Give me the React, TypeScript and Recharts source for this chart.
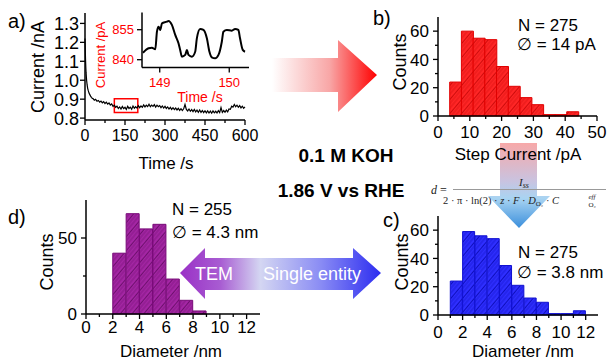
import React from "react";
import { LineChart, Line, XAxis, YAxis, BarChart, Bar, ReferenceArea } from "recharts";

const FONT = '"Liberation Sans", Arial, sans-serif';

// a) chronoamperometry, 0.1 M KOH
const timeS = [
  0, 1, 2, 3, 4, 5, 6, 8, 10, 12, 15, 18, 21, 24, 27,
  30, 35, 40, 45, 50, 55, 60, 65, 70, 75,
  80, 85, 90, 95, 100, 105, 110, 115, 120, 125,
  130, 135, 140, 145, 150, 155, 160, 165, 170, 175,
  180, 185, 190, 195, 200, 205, 210, 215, 220, 225,
  230, 235, 240, 245, 250, 255, 260, 265, 270, 275,
  280, 285, 290, 295, 300, 305, 310, 315, 320, 325,
  330, 335, 340, 345, 350, 355, 360, 365, 370, 375,
  380, 385, 390, 395, 400, 405, 410, 415, 420, 425,
  430, 435, 440, 445, 450, 455, 460, 465, 470, 475,
  480, 485, 490, 495, 500, 505, 510, 515, 520, 525,
  530, 535, 540, 545, 550, 555, 560, 565, 570, 575,
  580, 585, 590, 595, 600,
];
const currentNA = [
  1.22, 1.16, 1.11, 1.07, 1.04, 1.02, 1.0, 0.975, 0.957, 0.946, 0.932, 0.924, 0.916, 0.91, 0.905,
  0.903, 0.894, 0.899, 0.889, 0.893, 0.884, 0.89, 0.881, 0.887, 0.877,
  0.884, 0.874, 0.88, 0.869, 0.875, 0.862, 0.868, 0.857, 0.863, 0.851,
  0.859, 0.848, 0.861, 0.85, 0.857, 0.846, 0.862, 0.851, 0.858, 0.847,
  0.864, 0.852, 0.86, 0.853, 0.866, 0.855, 0.864, 0.857, 0.87, 0.859,
  0.868, 0.861, 0.873, 0.86, 0.869, 0.862, 0.871, 0.858, 0.868, 0.86,
  0.866, 0.855, 0.864, 0.853, 0.862, 0.851, 0.859, 0.848, 0.857, 0.846,
  0.855, 0.845, 0.853, 0.843, 0.852, 0.841, 0.85, 0.84, 0.849, 0.872,
  0.846, 0.838, 0.848, 0.836, 0.845, 0.834, 0.846, 0.833, 0.842, 0.831,
  0.843, 0.83, 0.84, 0.829, 0.839, 0.828, 0.838, 0.827, 0.837, 0.826,
  0.838, 0.828, 0.836, 0.827, 0.839, 0.829, 0.856, 0.83, 0.84, 0.831,
  0.842, 0.833, 0.848, 0.846, 0.863, 0.858, 0.872, 0.86, 0.868, 0.857,
  0.866, 0.854, 0.863, 0.852, 0.859,
];

// inset: zoom on 149-150 s
const insetTimeS = [
  148.759, 148.84, 148.888, 148.936, 148.96, 148.983, 149.008, 149.032, 149.104, 149.127,
  149.175, 149.223, 149.27, 149.294, 149.319, 149.366, 149.391, 149.414, 149.462, 149.51,
  149.534, 149.581, 149.629, 149.678, 149.715, 149.749, 149.797, 149.845, 149.893, 149.916,
  149.965, 150.037, 150.084, 150.131, 150.155, 150.194, 150.227,
];
const insetCurrentPA = [
  843.5, 845.7, 846.0, 845.2, 854.0, 856.5, 854.9, 858.2, 859.0, 859.4,
  857.4, 852.4, 848.2, 844.9, 841.5, 842.4, 844.9, 842.4, 841.5, 844.0,
  850.7, 855.4, 854.9, 850.7, 844.0, 841.2, 840.7, 842.4, 849.0, 854.0,
  854.9, 854.5, 855.4, 854.9, 850.7, 844.9, 844.0,
];

// b) step current histogram
const stepCurrentPA = [5.52, 9.2, 12.88, 16.56, 20.24, 23.92, 27.6, 31.28, 34.96, 38.64, 42.32];
const stepCounts = [24, 60, 55, 54, 35, 21, 13, 8, 1, 1, 3];

// c) single entity diameters
const seDiameterNm = [1.5, 2.5, 3.5, 4.5, 5.5, 6.5, 7.5, 8.5, 9.5, 10.5, 11.5];
const seCounts = [24, 59, 56, 54, 35, 21, 12, 9, 1, 1, 3];

// d) TEM diameters
const temDiameterNm = [2.5, 3.5, 4.5, 5.5, 6.5, 7.5, 8.5];
const temCounts = [40, 66, 56, 59, 23, 9, 2];

const aXTicks = [0, 75, 150, 225, 300, 375, 450, 525, 600];
const aXLabels = [0, 150, 300, 450, 600];
const aYTicks = [0.8, 0.9, 1.0, 1.1, 1.2, 1.3];
const insetXTicks = [149, 150];
const insetYTicks = [840, 855];
const bXTicks = [0, 5, 10, 15, 20, 25, 30, 35, 40, 45, 50];
const bXLabels = [0, 10, 20, 30, 40, 50];
const countTicks = [0, 10, 20, 30, 40, 50, 60];
const countLabels = [0, 20, 40, 60];
const nmTicks = [0, 1, 2, 3, 4, 5, 6, 7, 8, 9, 10, 11, 12];
const nmLabels = [0, 2, 4, 6, 8, 10, 12];
const temYTicks = [0, 25, 50];
const temYLabels = [0, 50];

const aData = timeS.map((t, i) => ({ t, i: currentNA[i] }));
const insetData = insetTimeS.map((t, i) => ({ t, i: insetCurrentPA[i] }));
const bData = stepCurrentPA.map((x, i) => ({ x, n: stepCounts[i] }));
const cData = seDiameterNm.map((x, i) => ({ x, n: seCounts[i] }));
const dData = temDiameterNm.map((x, i) => ({ x, n: temCounts[i] }));

type TickOpts = {
  side: "bottom" | "left";
  labels: number[];
  fontSize: number;
  gap: number;
  color?: string;
  fmt?: (v: number) => string;
};

// draws major/minor tick marks and labels only on the majors
function makeTick(o: TickOpts) {
  return (p: any) => {
    const v = p.payload.value;
    const major = o.labels.some((l) => Math.abs(l - v) < 1e-9);
    const len = major ? 5 : 3;
    const txt = o.fmt ? o.fmt(v) : String(v);
    const fill = o.color || "#000";
    if (o.side === "bottom") {
      return (
        <g>
          <line x1={p.x} x2={p.x} y1={p.y} y2={p.y + len} stroke="#000" strokeWidth={1.3} />
          {major && (
            <text x={p.x} y={p.y + o.gap} dy="0.72em" textAnchor="middle" fontSize={o.fontSize} fill={fill}>
              {txt}
            </text>
          )}
        </g>
      );
    }
    return (
      <g>
        <line x1={p.x} x2={p.x - len} y1={p.y} y2={p.y} stroke="#000" strokeWidth={1.3} />
        {major && (
          <text x={p.x - o.gap} y={p.y} dy="0.36em" textAnchor="end" fontSize={o.fontSize} fill={fill}>
            {txt}
          </text>
        )}
      </g>
    );
  };
}

const axisLine = { stroke: "#000", strokeWidth: 1.5 };

function Hatch({ id, base, line }: { id: string; base: string; line: string }) {
  return (
    <defs>
      <pattern id={id} patternUnits="userSpaceOnUse" width={9} height={9} patternTransform="rotate(40)">
        <rect width={9} height={9} fill={base} />
        <line x1={0} y1={0} x2={0} y2={9} stroke={line} strokeWidth={1.4} />
        <line x1={3} y1={0} x2={3} y2={9} stroke={line} strokeWidth={0.6} strokeOpacity={0.7} />
        <line x1={6} y1={0} x2={6} y2={9} stroke={line} strokeWidth={0.6} strokeOpacity={0.7} />
      </pattern>
    </defs>
  );
}

function Histogram(props: {
  data: { x: number; n: number }[];
  width: number;
  height: number;
  top: number;
  xDomain: [number, number];
  xTicks: number[];
  xLabels: number[];
  yDomain: [number, number];
  yTicks: number[];
  yLabels: number[];
  xGap: number;
  id: string;
  base: string;
  line: string;
  stroke: string;
}) {
  return (
    <BarChart
      width={props.width}
      height={props.height}
      data={props.data}
      margin={{ top: props.top, right: 10, bottom: 0, left: 0 }}
      barCategoryGap={0}
      barGap={0}
    >
      <Hatch id={props.id} base={props.base} line={props.line} />
      <XAxis
        type="number"
        dataKey="x"
        domain={props.xDomain}
        ticks={props.xTicks}
        interval={0}
        height={40}
        tickSize={0}
        tickMargin={0}
        axisLine={axisLine}
        tickLine={false}
        tick={makeTick({ side: "bottom", labels: props.xLabels, fontSize: 17, gap: props.xGap })}
      />
      <YAxis
        type="number"
        domain={props.yDomain}
        ticks={props.yTicks}
        interval={0}
        width={58}
        tickSize={0}
        tickMargin={0}
        axisLine={axisLine}
        tickLine={false}
        tick={makeTick({ side: "left", labels: props.yLabels, fontSize: 17, gap: 9 })}
      />
      <Bar dataKey="n" fill={`url(#${props.id})`} stroke={props.stroke} strokeWidth={1} isAnimationActive={false} />
    </BarChart>
  );
}

function Overlay() {
  return (
    <svg width={609} height={361} style={{ position: "absolute", left: 0, top: 0 }}>
      <defs>
        <linearGradient id="gRight" gradientUnits="userSpaceOnUse" x1={272} y1={0} x2={377} y2={0}>
          <stop offset="0" stopColor="#ffffff" />
          <stop offset="0.55" stopColor="#f8a6a6" />
          <stop offset="1" stopColor="#ff0000" />
        </linearGradient>
        <linearGradient id="gDown" gradientUnits="userSpaceOnUse" x1={0} y1={143} x2={0} y2={228}>
          <stop offset="0" stopColor="#f7a9a9" />
          <stop offset="0.45" stopColor="#c9c3e0" />
          <stop offset="0.65" stopColor="#a9d4f2" />
          <stop offset="1" stopColor="#3b8fdc" />
        </linearGradient>
        <linearGradient id="gDouble" gradientUnits="userSpaceOnUse" x1={180} y1={0} x2={381} y2={0}>
          <stop offset="0" stopColor="#9a30c6" />
          <stop offset="0.2" stopColor="#a85cd2" />
          <stop offset="0.4" stopColor="#d4d6f2" />
          <stop offset="0.7" stopColor="#8a8cf4" />
          <stop offset="1" stopColor="#2c2cf0" />
        </linearGradient>
      </defs>

      <polygon points="272,58 338,58 338,40 377,75 338,112 338,92 272,92" fill="url(#gRight)" />
      <polygon points="500,143 537,143 537,196 550,196 519,228 488,196 500,196" fill="url(#gDown)" />
      <polygon
        points="180,273 205,248 205,258 353,258 353,248 381,273 353,299 353,290 205,290 205,299"
        fill="url(#gDouble)"
      />
      <text x={195} y={280} fontSize={18} fill="#fff">TEM</text>
      <text x={263} y={280} fontSize={18} fill="#fff">Single entity</text>

      {/* formula */}
      <g fontFamily='"Liberation Serif", "DejaVu Serif", serif' fill="#222">
        <text x={431} y={194} fontSize={12}>
          <tspan fontStyle="italic">d</tspan> =
        </text>
        <line x1={453} x2={606} y1={189.5} y2={189.5} stroke="#999" strokeWidth={1} />
        <text x={519} y={186} fontSize={11} fontStyle="italic">
          I<tspan fontSize={8} dy={2}>ss</tspan>
        </text>
        <text x={443} y={204} fontSize={10.5}>
          2 · π · ln(2) · <tspan fontStyle="italic">z</tspan> · <tspan fontStyle="italic">F</tspan> ·{" "}
          <tspan fontStyle="italic">D</tspan>
          <tspan fontSize={7} dy={2}>O₂</tspan>
          <tspan dy={-2}> · </tspan>
          <tspan fontStyle="italic">C</tspan>
        </text>
        <text x={588.5} y={199} fontSize={7} fontStyle="italic">eff</text>
        <text x={588.5} y={207} fontSize={7}>O₂</text>
      </g>

      {/* panel labels */}
      <text x={8} y={28} fontSize={20}>a)</text>
      <text x={373} y={25} fontSize={20}>b)</text>
      <text x={383} y={227} fontSize={20}>c)</text>
      <text x={8} y={224} fontSize={20}>d)</text>

      {/* axis titles */}
      <text x={166} y={169} fontSize={17} textAnchor="middle">Time /s</text>
      <text transform="translate(44,67) rotate(-90)" fontSize={18} textAnchor="middle">Current /nA</text>
      <text x={200} y={102} fontSize={14} textAnchor="middle" fill="#ff0000">Time /s</text>
      <text transform="translate(105,55) rotate(-90)" fontSize={13} textAnchor="middle" fill="#ff0000">Current /pA</text>

      <text x={518} y={160} fontSize={17} textAnchor="middle">Step Current /pA</text>
      <text transform="translate(406,62) rotate(-90)" fontSize={18} textAnchor="middle">Counts</text>
      <text transform="translate(408,262) rotate(-90)" fontSize={18} textAnchor="middle">Counts</text>
      <text transform="translate(53,262) rotate(-90)" fontSize={18} textAnchor="middle">Counts</text>
      <text x={523} y={357} fontSize={17} textAnchor="middle">Diameter /nm</text>
      <text x={171} y={357} fontSize={17} textAnchor="middle">Diameter /nm</text>

      {/* statistics */}
      <text x={518} y={31} fontSize={17}>N = 275</text>
      <text x={517} y={50} fontSize={17}>∅ = 14 pA</text>
      <text x={518} y={258} fontSize={17}>N = 275</text>
      <text x={517} y={278} fontSize={17}>∅ = 3.8 nm</text>
      <text x={172} y={215} fontSize={17}>N = 255</text>
      <text x={172} y={238} fontSize={17}>∅ = 4.3 nm</text>

      {/* conditions */}
      <text x={346} y={162} fontSize={19} fontWeight="bold" textAnchor="middle">0.1 M KOH</text>
      <text x={341} y={197} fontSize={19} fontWeight="bold" textAnchor="middle">1.86 V vs RHE</text>
    </svg>
  );
}

export default function App() {
  return (
    <div
      style={{
        position: "absolute",
        left: 0,
        top: 0,
        width: 609,
        height: 361,
        background: "#fff",
        fontFamily: FONT,
        overflow: "hidden",
      }}
    >
      <Overlay />

      {/* a) main trace */}
      <div style={{ position: "absolute", left: 0, top: 0 }}>
        <LineChart width={265} height={150} data={aData} margin={{ top: 13, right: 20, bottom: 0, left: 0 }}>
          <XAxis
            type="number"
            dataKey="t"
            domain={[0, 600]}
            ticks={aXTicks}
            interval={0}
            height={30}
            tickSize={0}
            tickMargin={0}
            axisLine={axisLine}
            tickLine={false}
            tick={makeTick({ side: "bottom", labels: aXLabels, fontSize: 16, gap: 9 })}
          />
          <YAxis
            type="number"
            domain={[0.79, 1.355]}
            ticks={aYTicks}
            interval={0}
            width={85}
            tickSize={0}
            tickMargin={0}
            axisLine={axisLine}
            tickLine={false}
            tick={makeTick({ side: "left", labels: aYTicks, fontSize: 18, gap: 6, fmt: (v) => v.toFixed(1) })}
          />
          <Line dataKey="i" type="linear" stroke="#000" strokeWidth={1.2} dot={false} isAnimationActive={false} />
          <ReferenceArea x1={110} x2={198} y1={0.829} y2={0.902} stroke="#ff0000" strokeWidth={1.5} fill="none" fillOpacity={0} />
        </LineChart>
      </div>

      {/* a) inset */}
      <div style={{ position: "absolute", left: 102, top: 0 }}>
        <LineChart width={147} height={93} data={insetData} margin={{ top: 12.5, right: 0, bottom: 0, left: 0 }}>
          <XAxis
            type="number"
            dataKey="t"
            domain={[148.745, 150.284]}
            ticks={insetXTicks}
            interval={0}
            height={25.5}
            tickSize={0}
            tickMargin={0}
            axisLine={axisLine}
            tickLine={false}
            allowDataOverflow
            tick={makeTick({ side: "bottom", labels: insetXTicks, fontSize: 13, gap: 10, color: "#ff0000" })}
          />
          <YAxis
            type="number"
            domain={[836.1, 863.6]}
            ticks={insetYTicks}
            interval={0}
            width={40}
            tickSize={0}
            tickMargin={0}
            axisLine={axisLine}
            tickLine={false}
            allowDataOverflow
            tick={makeTick({ side: "left", labels: insetYTicks, fontSize: 13, gap: 8, color: "#ff0000" })}
          />
          <Line dataKey="i" type="monotone" stroke="#000" strokeWidth={2} dot={false} isAnimationActive={false} />
        </LineChart>
      </div>

      {/* b) */}
      <div style={{ position: "absolute", left: 380, top: 0 }}>
        <Histogram
          data={bData}
          width={227}
          height={156}
          top={17}
          xDomain={[0, 50]}
          xTicks={bXTicks}
          xLabels={bXLabels}
          yDomain={[0, 70]}
          yTicks={countTicks}
          yLabels={countLabels}
          xGap={10}
          id="hatchRed"
          base="#ff2626"
          line="#b80000"
          stroke="#e00000"
        />
      </div>

      {/* c) */}
      <div style={{ position: "absolute", left: 380, top: 200 }}>
        <Histogram
          data={cData}
          width={228}
          height={155}
          top={16}
          xDomain={[0, 13]}
          xTicks={nmTicks}
          xLabels={nmLabels}
          yDomain={[0, 70]}
          yTicks={countTicks}
          yLabels={countLabels}
          xGap={11}
          id="hatchBlue"
          base="#2f2fff"
          line="#0000a0"
          stroke="#1010d0"
        />
      </div>

      {/* d) */}
      <div style={{ position: "absolute", left: 28, top: 185 }}>
        <Histogram
          data={dData}
          width={242}
          height={169}
          top={15}
          xDomain={[0, 13]}
          xTicks={nmTicks}
          xLabels={nmLabels}
          yDomain={[0, 75]}
          yTicks={temYTicks}
          yLabels={temYLabels}
          xGap={7}
          id="hatchPurple"
          base="#a426a4"
          line="#560656"
          stroke="#780a78"
        />
      </div>
    </div>
  );
}
